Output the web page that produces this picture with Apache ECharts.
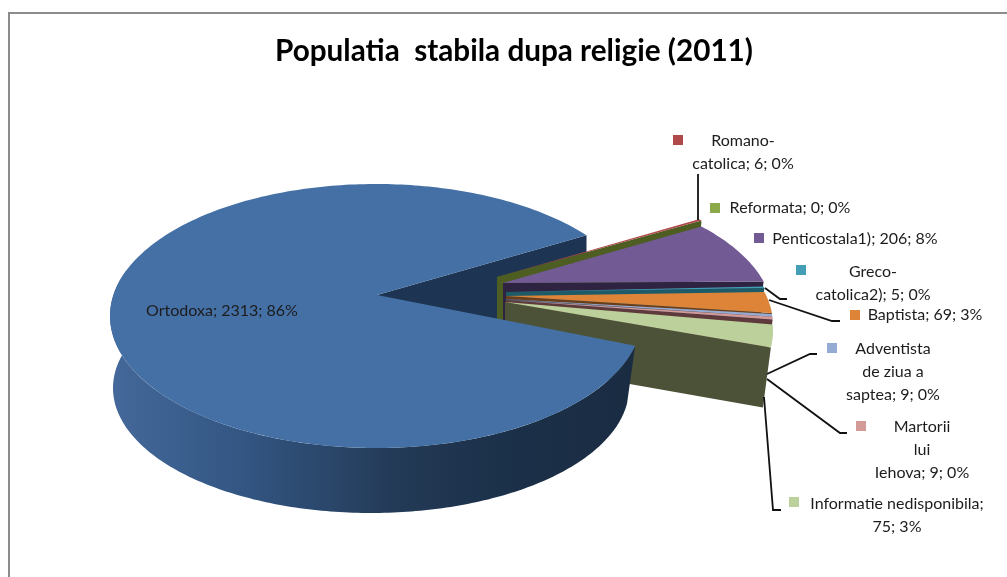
<!DOCTYPE html>
<html><head><meta charset="utf-8">
<style>html,body{margin:0;padding:0;background:#fff}#c{width:1007px;height:577px}</style>
<script src="https://cdn.jsdelivr.net/npm/echarts@6/dist/echarts.min.js"></script>
</head><body><div id="c"></div>
<script>
const titleText = 'Populatia  stabila dupa religie (2011)';
const categories = ['Ortodoxa','Romano-\ncatolica','Reformata','Penticostala1)','Greco-\ncatolica2)','Baptista','Adventista\nde ziua a\nsaptea','Martorii\nlui\nIehova','Informatie nedisponibila'];
const values = [2313,6,0,206,5,69,9,9,75];
const separators = ['; ','; ','; ','; ','; ','; ','; ','; ',';\n'];

const topColors = ['#4470A5','#B0494A','#8CA84B','#725A94','#449FB6','#DD8438','#95ABD3','#D49A98','#BBD09A'];
const sideColors = ['#1D3553','#4E5D22','#4E5D22','#2E2340','#1D5B68','#6A3E1A','#4A5A75','#5E3A3C','#4C5237'];
// Layout of the exploded wedge: per-slice apex and rim vertical shift
const apexes = [[377,295],[497,277],[497,277],[503,283],[506,292],[506,296],[506,299],[506,300],[505,302]];
const rimShiftY = [0,-6,-4,0,5,9,10,10,15];
const keyBoxes = [null,[673,135],[710,203],[754,233],[796,265],[850,310],[827,343],[856,421],[789,497]];
const labelPos = [[222,311],[743,152],[790,208],[855,239],[873,283],[925,315],[893,372],[922,450],[897,515]];
const leaders = [null,[[698,174],[698,220]],null,null,
  [[765,288],[780,299],[787,299]],[[769,300],[832,321],[840,321]],
  [[767,374],[810,354],[817,354]],[[767,379],[840,433],[847,433]],[[764,397],[773,510],[781,510]]];

const total = values.reduce((a,b)=>a+b,0);
const RAD = Math.PI/180;
const TOP = {cx:376, cy:316, rx:266, ry:132};
const BASE = {cx:371, cy:388, rx:258, ry:125};
const SIDE = {cx:503, cy:316, rx:270, ry:132};
const MAIN_START = 103, SIDE_START = 46.5, BASE_END = 97;
const DEPTH_MAIN = 65, SIDE_OFF = [-8,60];
const rim = (e,t,dy)=>[e.cx+e.rx*Math.sin(t*RAD), e.cy-e.ry*Math.cos(t*RAD)+(dy||0)];
const arc = (e,a,b,dy)=>{const p=[];const n=Math.max(2,Math.ceil(Math.abs(b-a)));for(let k=0;k<=n;k++)p.push(rim(e,a+(b-a)*k/n,dy));return p;};

function renderItem(params, api){
  const i = params.dataIndex, v = api.value(1), span = v/total*360;
  const children = [];
  const poly = (points, fill, z2)=>children.push({type:'polygon',z2,shape:{points},style:{fill}});
  if(i===0){
    const a0 = MAIN_START, a1 = MAIN_START+span;
    const apex = apexes[0], endP = rim(TOP,a1);
    poly([apex,endP,[endP[0],endP[1]+DEPTH_MAIN],[apex[0],apex[1]+DEPTH_MAIN]], sideColors[0], 1);
    const wall = arc(TOP,a0,290).concat(arc(BASE,290,BASE_END));
    const grad = new echarts.graphic.LinearGradient(110,0,632,0,[
      {offset:0,color:'#44699A'},{offset:.25,color:'#335683'},{offset:.55,color:'#233A56'},{offset:.75,color:'#1B3049'},{offset:1,color:'#1A2C42'}],true);
    poly(wall, grad, 100);
    poly([apex].concat(arc(TOP,a0,a1)), topColors[0], 101);
  } else {
    let before = 0; for(let k=1;k<i;k++) before += values[k];
    const a0 = SIDE_START+before/total*360, a1 = a0+span;
    const apex = apexes[i], dy = rimShiftY[i], endP = rim(SIDE,a1,dy);
    poly([apex,endP,[endP[0]+SIDE_OFF[0],endP[1]+SIDE_OFF[1]],[apex[0],apex[1]+SIDE_OFF[1]]], sideColors[i], 10+2*i);
    if(v>0) poly([apex].concat(arc(SIDE,a0,a1,dy)), topColors[i], 11+2*i);
  }
  const label = categories[i]+separators[i]+v+'; '+Math.round(v/total*100)+'%';
  children.push({type:'text',z2:200,style:{text:label,x:labelPos[i][0],y:labelPos[i][1],align:'center',verticalAlign:'middle',
    fontFamily:'Lato',fontSize:16,lineHeight:23,fill:'#1c1c1c'}});
  if(keyBoxes[i]) children.push({type:'rect',z2:200,shape:{x:keyBoxes[i][0],y:keyBoxes[i][1],width:10,height:10},style:{fill:topColors[i]}});
  if(leaders[i]) children.push({type:'polyline',z2:150,shape:{points:leaders[i]},style:{fill:null,stroke:'#111',lineWidth:1.8}});
  return {type:'group',children};
}

const chart = echarts.init(document.getElementById('c'),null,{renderer:'canvas'});
chart.setOption({
  animation:false,
  backgroundColor:'#fff',
  title:{text:titleText,left:509,top:31,textAlign:'center',textStyle:{fontFamily:'Lato',fontWeight:'bold',fontSize:29.7,color:'#000'}},
  graphic:[{type:'polyline',silent:true,shape:{points:[[9,577],[9,13],[1007,13]]},style:{fill:null,stroke:'#8c8c8c',lineWidth:2}}],
  series:[{type:'custom',coordinateSystem:'none',renderItem,silent:true,
    data:values.map((v,i)=>[i,v])}]
});
</script></body></html>
